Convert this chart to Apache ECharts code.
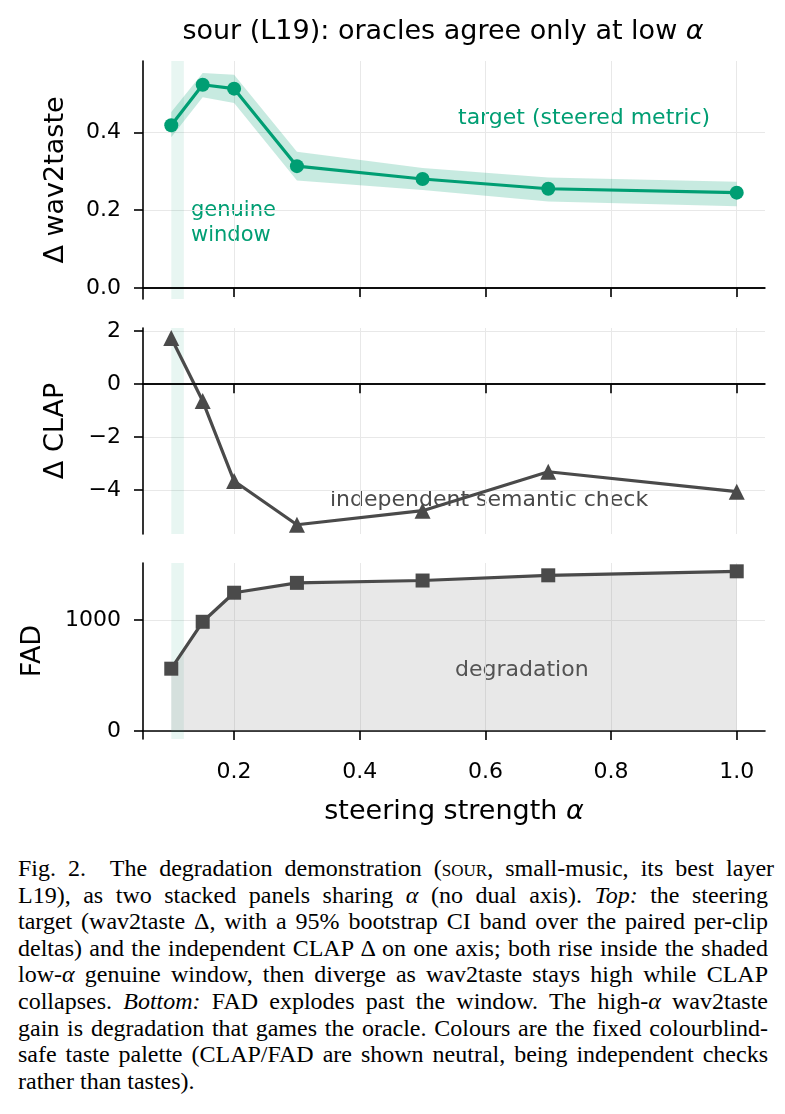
<!DOCTYPE html>
<html>
<head>
<meta charset="utf-8">
<script src="https://cdn.jsdelivr.net/npm/echarts@6/dist/echarts.min.js"></script>
<style>
  body { margin: 0; background: #fff; }
  #chart { position: absolute; left: 0; top: 0; width: 785px; height: 845px; }
  .caption {
    position: absolute; left: 18px; top: 855px; width: 750px;
    font-family: "Liberation Serif", "Times New Roman", serif;
    font-size: 24px; line-height: 26.6px; color: #000;
  }
  .caption .ln { white-space: nowrap; }
  .sc { font-variant: small-caps; }
</style>
</head>
<body>
<div id="chart"></div>
<div class="caption">
  <div class="ln"><span>Fig. 2.&nbsp; The degradation demonstration (<span class="sc">sour</span>, small-music, its best layer</span></div>
  <div class="ln"><span>L19), as two stacked panels sharing <i>α</i> (no dual axis). <i>Top:</i> the steering</span></div>
  <div class="ln"><span>target (wav2taste Δ, with a 95% bootstrap CI band over the paired per-clip</span></div>
  <div class="ln"><span>deltas) and the independent CLAP Δ on one axis; both rise inside the shaded</span></div>
  <div class="ln"><span>low-<i>α</i> genuine window, then diverge as wav2taste stays high while CLAP</span></div>
  <div class="ln"><span>collapses. <i>Bottom:</i> FAD explodes past the window. The high-<i>α</i> wav2taste</span></div>
  <div class="ln"><span>gain is degradation that games the oracle. Colours are the fixed colourblind-</span></div>
  <div class="ln"><span>safe taste palette (CLAP/FAD are shown neutral, being independent checks</span></div>
  <div class="ln last"><span>rather than tastes).</span></div>
</div>
<script>
// steering strengths
const alphas = [0.1, 0.15, 0.2, 0.3, 0.5, 0.7, 1.0]
// delta wav2taste (target) with bootstrap CI
const wav2taste = [0.418, 0.522, 0.512, 0.313, 0.280, 0.255, 0.245]
const ciLow = [0.387, 0.490, 0.475, 0.276, 0.252, 0.222, 0.210]
const ciHigh = [0.452, 0.552, 0.548, 0.350, 0.308, 0.284, 0.273]
// independent checks
const clap = [1.74, -0.64, -3.66, -5.31, -4.78, -3.31, -4.06]
const fad = [562, 985, 1247, 1336, 1357, 1404, 1440]
// ticks
const xTicks = [0.2, 0.4, 0.6, 0.8, 1.0]
const wavTicks = [0, 0.2, 0.4]
const clapTicks = [-4, -2, 0, 2]
const fadTicks = [0, 1000]
// genuine window on alpha
const windowRange = [0.1, 0.12]

const GREEN = '#009E73'
const DARK = '#4a4a4a'
const FONT = 'DejaVu Sans'

const pairs = (ys) => alphas.map((a, i) => [a, ys[i]])

const chart = echarts.init(document.getElementById('chart'))

const grids = [
  { left: 143, top: 61, width: 622, height: 238 },
  { left: 143, top: 328, width: 622, height: 206 },
  { left: 143, top: 563, width: 622, height: 176 }
]

function xAxis(idx, showLabels) {
  return {
    type: 'value', gridIndex: idx, min: 0.055, max: 1.045,
    axisLine: { lineStyle: { color: '#000', width: 1.6 } },
    axisTick: { show: true, length: 9, lineStyle: { color: '#000', width: 1.6 }, customValues: xTicks },
    axisLabel: {
      show: showLabels, customValues: xTicks, margin: 22,
      fontFamily: FONT, fontSize: 22, color: '#000',
      formatter: (v) => v.toFixed(1)
    },
    splitLine: { show: true, lineStyle: { color: '#e8e8e8', width: 1 }, customValues: xTicks }
  }
}

function yAxis(idx, min, max, ticks, fmt) {
  return {
    type: 'value', gridIndex: idx, min: min, max: max,
    axisLine: { show: true, lineStyle: { color: '#000', width: 1.6 } },
    axisTick: { show: true, length: 9, lineStyle: { color: '#000', width: 1.6 }, customValues: ticks },
    axisLabel: {
      customValues: ticks, margin: 22,
      fontFamily: FONT, fontSize: 22, color: '#000',
      formatter: fmt
    },
    splitLine: { show: true, lineStyle: { color: '#e8e8e8', width: 1 }, customValues: ticks }
  }
}

const windowArea = {
  silent: true,
  itemStyle: { color: 'rgba(0,158,115,0.09)' },
  data: [[{ xAxis: windowRange[0] }, { xAxis: windowRange[1] }]]
}

const zeroLine = {
  silent: true, symbol: 'none', label: { show: false },
  lineStyle: { color: '#000', width: 1.5, type: 'solid' },
  data: [{ yAxis: 0 }]
}

const minus = (v) => (v < 0 ? '\u2212' + Math.abs(v) : String(v))

const option = {
  animation: false,
  backgroundColor: '#fff',
  grid: grids,
  xAxis: [xAxis(0, false), xAxis(1, false), xAxis(2, true)],
  yAxis: [
    yAxis(0, -0.028, 0.583, wavTicks, (v) => v.toFixed(1)),
    yAxis(1, -5.66, 2.12, clapTicks, minus),
    yAxis(2, -72, 1515, fadTicks, (v) => String(v))
  ],
  series: [
    {
      // 95% bootstrap CI band, drawn as one polygon
      name: 'ci', type: 'custom', xAxisIndex: 0, yAxisIndex: 0,
      data: alphas.map((a, i) => [a, ciLow[i], ciHigh[i]]),
      encode: { x: 0, y: [1, 2] },
      silent: true, z: 1,
      renderItem: (params, api) => {
        if (params.dataIndex !== 0) return null
        const upper = alphas.map((a, i) => api.coord([a, ciHigh[i]]))
        const lower = alphas.map((a, i) => api.coord([a, ciLow[i]])).reverse()
        return {
          type: 'polygon',
          shape: { points: upper.concat(lower) },
          style: { fill: 'rgba(0,158,115,0.22)' }
        }
      }
    },
    {
      name: 'wav2taste', type: 'line', xAxisIndex: 0, yAxisIndex: 0,
      data: pairs(wav2taste), symbol: 'circle', symbolSize: 14,
      lineStyle: { color: GREEN, width: 3.2 }, itemStyle: { color: GREEN }, z: 5,
      markArea: windowArea, markLine: zeroLine
    },
    {
      name: 'clap', type: 'line', xAxisIndex: 1, yAxisIndex: 1,
      data: pairs(clap), symbol: 'triangle', symbolSize: 16,
      lineStyle: { color: DARK, width: 3.2 }, itemStyle: { color: DARK },
      markArea: windowArea, markLine: zeroLine
    },
    {
      name: 'fad', type: 'line', xAxisIndex: 2, yAxisIndex: 2,
      data: pairs(fad), symbol: 'rect', symbolSize: 14,
      lineStyle: { color: DARK, width: 3.2 }, itemStyle: { color: DARK },
      areaStyle: { color: 'rgba(128,128,128,0.18)', opacity: 1 },
      markArea: windowArea
    }
  ],
  graphic: [
    {
      type: 'text', x: 443, y: 32,
      style: {
        text: '{n|sour (L19): oracles agree only at low }{i|α}',
        align: 'center', verticalAlign: 'middle',
        rich: {
          n: { fontFamily: FONT, fontSize: 27, fill: '#000' },
          i: { fontFamily: FONT, fontSize: 27, fontStyle: 'italic', fill: '#000' }
        }
      }
    },
    {
      type: 'text', x: 454, y: 812,
      style: {
        text: '{n|steering strength }{i|α}',
        align: 'center', verticalAlign: 'middle',
        rich: {
          n: { fontFamily: FONT, fontSize: 27, fill: '#000' },
          i: { fontFamily: FONT, fontSize: 27, fontStyle: 'italic', fill: '#000' }
        }
      }
    },
    {
      type: 'text', x: 56, y: 180, rotation: Math.PI / 2,
      style: { text: 'Δ wav2taste', font: '27px "DejaVu Sans"', fill: '#000', align: 'center', verticalAlign: 'middle' }
    },
    {
      type: 'text', x: 56, y: 431, rotation: Math.PI / 2,
      style: { text: 'Δ CLAP', font: '27px "DejaVu Sans"', fill: '#000', align: 'center', verticalAlign: 'middle' }
    },
    {
      type: 'text', x: 33, y: 651, rotation: Math.PI / 2,
      style: { text: 'FAD', font: '27px "DejaVu Sans"', fill: '#000', align: 'center', verticalAlign: 'middle' }
    },
    {
      type: 'text', x: 458, y: 118,
      style: { text: 'target (steered metric)', font: '22px "DejaVu Sans"', fill: GREEN, verticalAlign: 'middle' }
    },
    {
      type: 'text', x: 191, y: 223,
      style: { text: 'genuine\nwindow', font: '21px "DejaVu Sans"', fill: GREEN, verticalAlign: 'middle', lineHeight: 25 }
    },
    {
      type: 'text', x: 330, y: 500,
      style: { text: 'independent semantic check', font: '22px "DejaVu Sans"', fill: DARK, verticalAlign: 'middle' }
    },
    {
      type: 'text', x: 455, y: 670,
      style: { text: 'degradation', font: '22px "DejaVu Sans"', fill: DARK, verticalAlign: 'middle' }
    }
  ]
}

chart.setOption(option)

// justify each caption line to the full 750px width
document.querySelectorAll('.caption .ln').forEach((ln) => {
  if (ln.classList.contains('last')) return
  const span = ln.firstElementChild
  const gaps = (span.textContent.match(/ /g) || []).length
  const extra = 750 - span.getBoundingClientRect().width
  if (gaps > 0) ln.style.wordSpacing = (extra / gaps) + 'px'
})
</script>
</body>
</html>
